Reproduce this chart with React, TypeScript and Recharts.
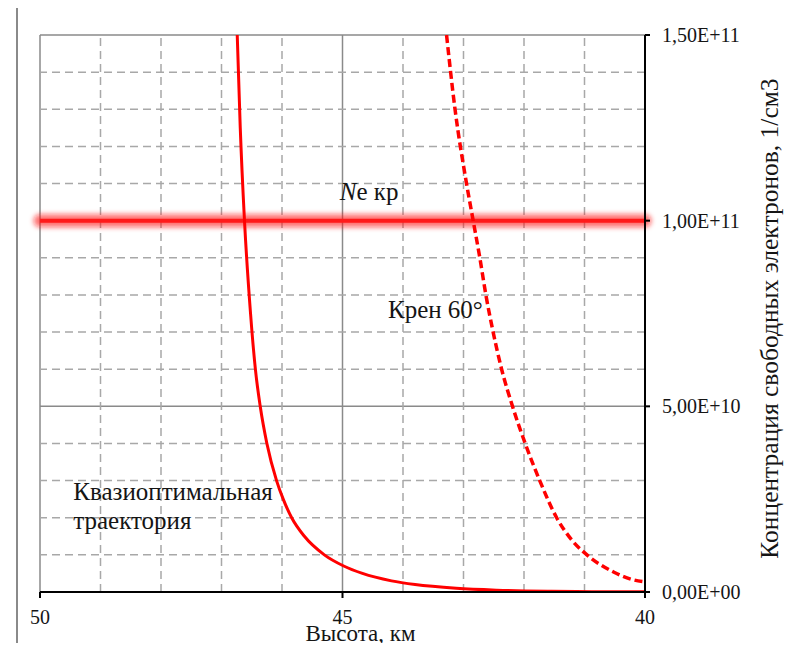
import React from 'react';
import { LineChart, Line, XAxis, YAxis, CartesianGrid, ReferenceLine, ReferenceDot } from 'recharts';

// Квазиоптимальная траектория: высота, км / концентрация, 1/см3
const quasiAlt = [46.74, 46.69, 46.62, 46.52, 46.44, 46.36, 46.25, 46.09, 45.98, 45.84, 45.63, 45.3, 44.98, 44.67, 44.19, 43.8, 43.12, 42.45, 41.55, 40.88, 40.0];
const quasiNe = [1.5e11, 1.25e11, 1.0e11, 7.5e10, 6.0e10, 5.0e10, 4.0e10, 3.0e10, 2.5e10, 2.0e10, 1.5e10, 1.0e10, 7.0e9, 5.0e9, 3.0e9, 2.0e9, 1.0e9, 5e8, 2e8, 1e8, 4e7];

// Крен 60°
const bankAlt = [43.28, 43.14, 42.95, 42.84, 42.73, 42.63, 42.51, 42.37, 42.19, 41.98, 41.74, 41.46, 41.21, 40.96, 40.52, 40.2, 40.0];
const bankNe = [1.5e11, 1.3e11, 1.1e11, 1.0e11, 9.0e10, 8.0e10, 7.0e10, 6.0e10, 5.0e10, 4.0e10, 3.0e10, 2.0e10, 1.4e10, 1.0e10, 5.4e9, 3.3e9, 2.7e9];

// критическая концентрация
const NE_CRIT = 1e11;

const altTicks = [40, 45, 50];
const neTicks = [0, 5e10, 1e11, 1.5e11];
const minorAlt = [41, 42, 43, 44, 46, 47, 48, 49];
const minorNe = [1e10, 2e10, 3e10, 4e10, 6e10, 7e10, 8e10, 9e10, 1.1e11, 1.2e11, 1.3e11, 1.4e11];

const quasiData = quasiAlt.map((alt, i) => ({ alt, ne: quasiNe[i] }));
const bankData = bankAlt.map((alt, i) => ({ alt, ne: bankNe[i] }));

const FONT = '"Liberation Serif", "Times New Roman", serif';
const INK = '#151515';
const noteStyle = { fontFamily: FONT, fontSize: 25, fill: INK };

// 1,50E+11
const fmtSci = (v: number) => {
  const [m, e] = v.toExponential(2).split('e');
  const exp = Number(e);
  return `${m.replace('.', ',')}E${exp < 0 ? '-' : '+'}${String(Math.abs(exp)).padStart(2, '0')}`;
};

const center = (vb: any) => ({ x: vb.x + vb.width / 2, y: vb.y + vb.height / 2 });

const NeLabel = ({ viewBox }: any) => {
  const { x, y } = center(viewBox);
  return (
    <text x={x} y={y} textAnchor="middle" style={noteStyle}>
      <tspan fontStyle="italic">N</tspan>e кр
    </text>
  );
};

const QuasiLabel = ({ viewBox }: any) => {
  const { x, y } = center(viewBox);
  return (
    <text x={x} y={y} textAnchor="start" style={noteStyle}>
      <tspan x={x}>Квазиоптимальная</tspan>
      <tspan x={x} dy={29}>траектория</tspan>
    </text>
  );
};

const BankLabel = ({ viewBox }: any) => {
  const { x, y } = center(viewBox);
  return (
    <text x={x} y={y} textAnchor="end" style={noteStyle}>
      Крен 60°
    </text>
  );
};

const XTitle = ({ viewBox }: any) => (
  <text x={viewBox.x + viewBox.width / 2 + 18} y={viewBox.y + 49} textAnchor="middle" style={{ ...noteStyle, fontSize: 23 }}>
    Высота, км
  </text>
);

const YTitle = ({ viewBox }: any) => {
  const x = viewBox.x + 133;
  const y = viewBox.y + viewBox.height / 2 + 5;
  return (
    <text x={x} y={y} transform={`rotate(-90 ${x} ${y})`} textAnchor="middle" style={{ ...noteStyle, fontSize: 25.5 }}>
      Концентрация свободных электронов, 1/см3
    </text>
  );
};

export default function App() {
  return (
    <div style={{ position: 'relative', width: 795, height: 651, margin: -8, overflow: 'hidden', background: '#fff' }}>
      <div
        style={{
          position: 'absolute',
          left: 16,
          top: 5,
          width: 820,
          height: 700,
          border: '2px solid #8a8a8a',
        }}
      />
      <LineChart width={795} height={651} margin={{ top: 35, right: 0, bottom: 0, left: 40 }} style={{ position: 'absolute', left: 0, top: 0 }}>
        <defs>
          <filter id="neGlow" filterUnits="userSpaceOnUse" x="0" y="0" width="795" height="651">
            <feGaussianBlur stdDeviation="2.5" />
          </filter>
        </defs>

        <CartesianGrid stroke="#8a8a8a" strokeWidth={1.5} />
        {minorAlt.map((a) => (
          <ReferenceLine key={`xa-${a}`} x={a} stroke="#a8a8a8" strokeWidth={1.5} strokeDasharray="8 5" />
        ))}
        {minorNe.map((n) => (
          <ReferenceLine key={`yn-${n}`} y={n} stroke="#a8a8a8" strokeWidth={1.5} strokeDasharray="8 5" />
        ))}

        <XAxis
          type="number"
          dataKey="alt"
          domain={[40, 50]}
          ticks={altTicks}
          reversed
          allowDataOverflow
          height={59}
          axisLine={{ stroke: '#000', strokeWidth: 2 }}
          tickLine={{ stroke: '#000', strokeWidth: 2 }}
          tickSize={6}
          tickMargin={12}
          tick={{ fontFamily: FONT, fontSize: 20, fill: INK }}
          label={{ content: XTitle }}
        />
        <YAxis
          type="number"
          orientation="right"
          domain={[0, 1.5e11]}
          ticks={neTicks}
          allowDataOverflow
          width={150}
          axisLine={{ stroke: '#000', strokeWidth: 2 }}
          tickLine={{ stroke: '#000', strokeWidth: 2 }}
          tickSize={5}
          tickMargin={12}
          tickFormatter={fmtSci}
          tick={{ fontFamily: FONT, fontSize: 20, fill: INK }}
          label={{ content: YTitle }}
        />

        <ReferenceLine y={NE_CRIT} stroke="#ff1010" strokeOpacity={0.6} strokeWidth={13} strokeLinecap="round" filter="url(#neGlow)" />
        <ReferenceLine y={NE_CRIT} stroke="#ff1a1a" strokeWidth={4} />

        <Line data={quasiData} dataKey="ne" type="monotone" stroke="#ff0000" strokeWidth={3} dot={false} isAnimationActive={false} />
        <Line
          data={bankData}
          dataKey="ne"
          type="monotone"
          stroke="#ff0000"
          strokeWidth={3.5}
          strokeDasharray="8 4"
          dot={false}
          isAnimationActive={false}
        />

        <ReferenceDot x={44.56} y={1.055e11} r={1} fill="none" stroke="none" label={{ content: NeLabel }} />
        <ReferenceDot x={49.45} y={2.47e10} r={1} fill="none" stroke="none" label={{ content: QuasiLabel }} />
        <ReferenceDot x={42.68} y={7.37e10} r={1} fill="none" stroke="none" label={{ content: BankLabel }} />
      </LineChart>
    </div>
  );
}
